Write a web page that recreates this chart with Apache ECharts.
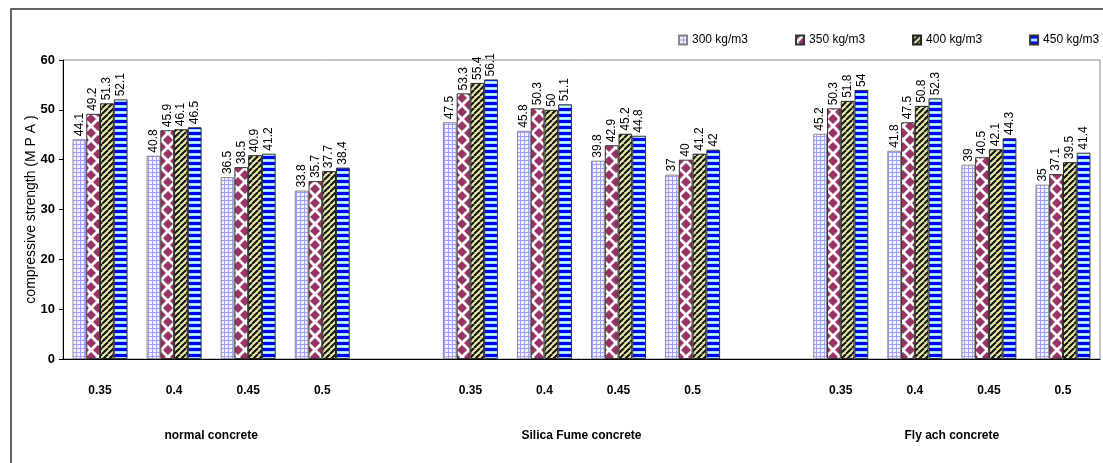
<!DOCTYPE html>
<html>
<head>
<meta charset="utf-8">
<script src="https://cdn.jsdelivr.net/npm/echarts@6/dist/echarts.min.js"></script>
<style>
html,body{margin:0;padding:0;background:#fff;}
#chart{width:1103px;height:463px;}
</style>
</head>
<body>
<div id="chart"></div>
<script>
// ---- data ----
const ratios = ['0.35', '0.4', '0.45', '0.5'];
const groups = ['normal concrete', 'Silica Fume concrete', 'Fly ach concrete'];
const seriesNames = ['300 kg/m3', '350 kg/m3', '400 kg/m3', '450 kg/m3'];
const yTicks = [0, 10, 20, 30, 40, 50, 60];
// values in order: normal(0.35..0.5), silica(0.35..0.5), fly(0.35..0.5)
const s300 = [44.1, 40.8, 36.5, 33.8, 47.5, 45.8, 39.8, 37, 45.2, 41.8, 39, 35];
const s350 = [49.2, 45.9, 38.5, 35.7, 53.3, 50.3, 42.9, 40, 50.3, 47.5, 40.5, 37.1];
const s400 = [51.3, 46.1, 40.9, 37.7, 55.4, 50, 45.2, 41.2, 51.8, 50.8, 42.1, 39.5];
const s450 = [52.1, 46.5, 41.2, 38.4, 56.1, 51.1, 44.8, 42, 54, 52.3, 44.3, 41.4];
const allSeries = [s300, s350, s400, s450];

// ---- build category axis with a blank slot between groups ----
const categories = [];
const slotIndex = [];
const groupCenters = {};
groups.forEach((g, gi) => {
  const start = categories.length;
  ratios.forEach(r => { slotIndex.push(categories.length); categories.push(r); });
  groupCenters[start + ratios.length / 2] = g;
  if (gi < groups.length - 1) categories.push(' '.repeat(gi + 1));
});
function expand(vals) {
  const out = categories.map(() => '-');
  vals.forEach((v, i) => { out[slotIndex[i]] = v; });
  return out;
}

// ---- fill patterns ----
function makePattern(w, h, draw) {
  const c = document.createElement('canvas');
  c.width = w; c.height = h;
  const ctx = c.getContext('2d');
  draw(ctx, w, h);
  return { image: c, repeat: 'repeat' };
}
const pGrid = makePattern(4, 4, (ctx, w, h) => {
  ctx.fillStyle = '#f4f4ff'; ctx.fillRect(0, 0, w, h);
  ctx.fillStyle = '#9f9fff';
  ctx.fillRect(0, 0, w, 1); ctx.fillRect(0, 0, 1, h);
});
const pDiamond = makePattern(14, 14, (ctx, w, h) => {
  ctx.fillStyle = '#ffffff'; ctx.fillRect(0, 0, w, h);
  ctx.fillStyle = '#993366';
  const dia = (cx, cy) => {
    ctx.beginPath();
    ctx.moveTo(cx, cy - 5); ctx.lineTo(cx + 5, cy); ctx.lineTo(cx, cy + 5); ctx.lineTo(cx - 5, cy);
    ctx.closePath(); ctx.fill();
  };
  dia(7, 7); dia(0, 0); dia(14, 0); dia(0, 14); dia(14, 14);
});
const pStripe = makePattern(6, 6, (ctx, w, h) => {
  ctx.fillStyle = '#e8e6a8'; ctx.fillRect(0, 0, w, h);
  ctx.strokeStyle = '#111'; ctx.lineWidth = 2;
  for (let k = -2; k <= 2; k++) {
    ctx.beginPath();
    ctx.moveTo(k * 6, h); ctx.lineTo(k * 6 + w, 0);
    ctx.stroke();
  }
});
const pHoriz = makePattern(4, 6, (ctx, w, h) => {
  ctx.fillStyle = '#0000ff'; ctx.fillRect(0, 0, w, 3);
  ctx.fillStyle = '#99ddff'; ctx.fillRect(0, 3, w, 1);
  ctx.fillStyle = '#ccffff'; ctx.fillRect(0, 4, w, 1);
  ctx.fillStyle = '#99ddff'; ctx.fillRect(0, 5, w, 1);
});
const patterns = [pGrid, pDiamond, pStripe, pHoriz];
const borders = ['#888888', '#333333', '#222222', '#333333'];

const font = "'Liberation Sans', Arial, sans-serif";

const chart = echarts.init(document.getElementById('chart'), null, { renderer: 'canvas' });
chart.setOption({
  animation: false,
  backgroundColor: '#ffffff',
  graphic: [{
    type: 'rect', z: -1, silent: true,
    shape: { x: 11, y: 9, width: 1120, height: 480 },
    style: { fill: 'none', stroke: '#333', lineWidth: 1.5 }
  }],
  legend: {
    data: seriesNames,
    left: 678, top: 34, width: 425,
    padding: 0,
    itemWidth: 8, itemHeight: 9, itemGap: 47,
    icon: 'rect',
    textStyle: { fontFamily: font, fontSize: 12, color: '#000' }
  },
  grid: {
    left: 63, right: 1, top: 60, bottom: 104,
    show: true, borderColor: '#8a8a8a', borderWidth: 1, containLabel: false
  },
  xAxis: [{
    type: 'category',
    data: categories,
    axisLine: { lineStyle: { color: '#000', width: 1 } },
    axisTick: { show: false },
    axisLabel: {
      interval: 0, margin: 26,
      fontFamily: font, fontSize: 12, fontWeight: 'bold', color: '#000'
    }
  }, {
    type: 'value',
    position: 'bottom',
    min: 0, max: categories.length, interval: 1,
    axisLine: { show: false },
    axisTick: { show: false },
    splitLine: { show: false },
    axisLabel: {
      margin: 71, showMinLabel: true, showMaxLabel: true,
      fontFamily: font, fontSize: 12, fontWeight: 'bold', color: '#000',
      formatter: v => groupCenters[v] || ''
    }
  }],
  yAxis: {
    type: 'value',
    min: yTicks[0], max: yTicks[yTicks.length - 1], interval: 10,
    name: 'compressive strength (M P A )',
    nameLocation: 'middle', nameGap: 25, nameMoveOverlap: false,
    nameTextStyle: { fontFamily: font, fontSize: 14, color: '#000' },
    axisLine: { show: true, lineStyle: { color: '#000', width: 1 } },
    axisTick: { show: true, length: 4, lineStyle: { color: '#000' } },
    splitLine: { show: false },
    axisLabel: { margin: 8, fontFamily: font, fontSize: 13, fontWeight: 'bold', color: '#000' }
  },
  series: allSeries.map((vals, i) => ({
    name: seriesNames[i],
    type: 'bar',
    xAxisIndex: 0,
    data: expand(vals),
    barWidth: 13.75,
    barGap: '0%',
    itemStyle: { color: patterns[i], borderColor: borders[i], borderWidth: 1 },
    label: {
      show: true, position: 'top', rotate: 90, distance: 3,
      align: 'left', verticalAlign: 'middle',
      fontFamily: font, fontSize: 12, color: '#000'
    }
  }))
});
</script>
</body>
</html>
